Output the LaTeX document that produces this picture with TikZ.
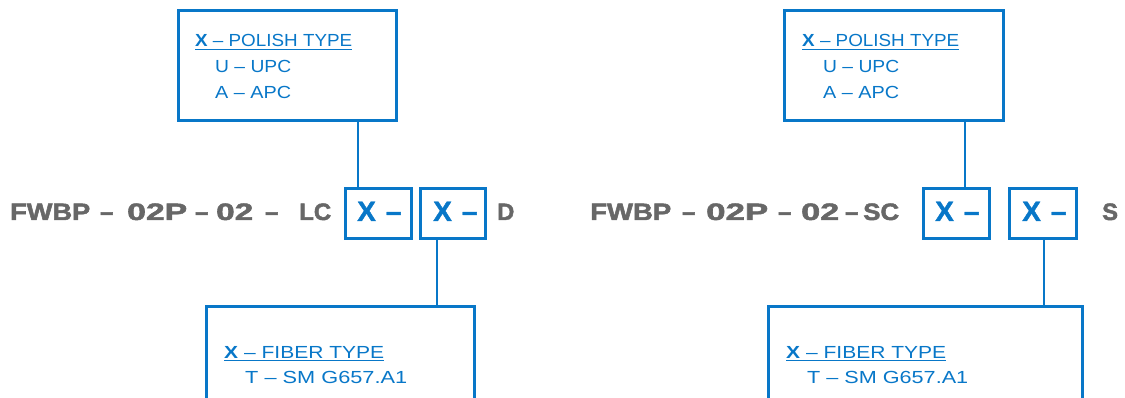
\documentclass[tikz,border=0pt]{standalone}
\usepackage{fontspec}
\setmainfont{Liberation Sans}
\newfontfamily\heavy[FakeBold=2]{Liberation Sans Bold}
\newfontfamily\heavyx[FakeBold=1.5]{Liberation Sans Bold}
\usepackage{graphicx}
\definecolor{fb}{HTML}{0877C8}
\definecolor{fg}{HTML}{676767}
\newcommand\fitw[2]{\resizebox{#1pt}{\height}{#2}}
\begin{document}
\begin{tikzpicture}[x=1pt,y=-1pt,
  frame/.style={draw=fb, line width=2.8pt, inner sep=0pt, anchor=north west},
  graytxt/.style={text=fg, font=\fontsize{23.7}{24}\heavy, inner sep=0pt, anchor=base west},
  bxtxt/.style={text=fb, font=\fontsize{28}{28}\heavyx, inner sep=0pt, anchor=base west},
  lbl/.style={text=fb, font=\fontsize{17.5}{18}\selectfont, inner sep=0pt, anchor=base west},
  wire/.style={draw=fb, line width=2.8pt},
  uline/.style={draw=fb, line width=1.7pt}]
\useasboundingbox (0,0) rectangle (1125,398);
\clip (0,0) rectangle (1125,398);

% ---------- left ----------
\node[frame, minimum width=218pt, minimum height=110pt] (tL) at (177,9) {};
\node[frame, minimum width=66pt, minimum height=50pt] (b1L) at (344,187) {};
\node[frame, minimum width=65pt, minimum height=50pt] (b2L) at (419,187) {};
\node[frame, minimum width=268pt, minimum height=130pt] (bL) at (205,305) {};

\coordinate (k1) at (358,0);
\coordinate (k2) at (437,0);
\draw[wire] (k1 |- tL.south) -- (k1 |- b1L.north);
\draw[wire] (k2 |- b2L.south) -- (k2 |- bL.north);

\node[graytxt] (gL1) at (10,220) {\fitw{80}{FWBP}};
\node[graytxt] (gL2) at (100,220) {–};
\node[graytxt] (gL3) at (127,220) {\fitw{60}{02P}};
\node[graytxt] (gL4) at (195,220) {–};
\node[graytxt] (gL5) at (216,220) {\fitw{37}{02}};
\node[graytxt] (gL6) at (265,220) {–};
\node[graytxt] (gL7) at (299,220) {\fitw{32}{LC}};
\node[graytxt] (gL8) at (497,220) {D};

\node[bxtxt] (xL1) at (357,221) {X\hspace{10pt}–};
\node[bxtxt] (xL2) at (433,221) {X\hspace{10pt}–};

\node[lbl] (pL1) at (195,47) {\fitw{157}{\textbf{X} – POLISH TYPE}};
\draw[uline] ([yshift=-2.6pt]pL1.base west) -- ([yshift=-2.6pt]pL1.base east);
\node[lbl] (pL2) at (215,73) {\fitw{76}{U – UPC}};
\node[lbl] (pL3) at (215,99) {\fitw{76}{A – APC}};

\node[lbl] (fL1) at (224,358) {\fitw{160}{\textbf{X} – FIBER TYPE}};
\draw[uline] ([yshift=-2.6pt]fL1.base west) -- ([yshift=-2.6pt]fL1.base east);
\node[lbl] (fL2) at (245,383) {\fitw{162}{T – SM G657.A1}};

% ---------- right ----------
\node[frame, minimum width=219pt, minimum height=110pt] (tR) at (783,9) {};
\node[frame, minimum width=66pt, minimum height=50pt] (b1R) at (922,187) {};
\node[frame, minimum width=67pt, minimum height=50pt] (b2R) at (1008,187) {};
\node[frame, minimum width=314pt, minimum height=130pt] (bR) at (767,305) {};

\coordinate (k3) at (965,0);
\coordinate (k4) at (1044,0);
\draw[wire] (k3 |- tR.south) -- (k3 |- b1R.north);
\draw[wire] (k4 |- b2R.south) -- (k4 |- bR.north);

\node[graytxt] (gR1) at (590,220) {\fitw{81}{FWBP}};
\node[graytxt] (gR2) at (682,220) {–};
\node[graytxt] (gR3) at (706,220) {\fitw{62}{02P}};
\node[graytxt] (gR4) at (778,220) {–};
\node[graytxt] (gR5) at (801,220) {\fitw{38}{02}};
\node[graytxt] (gR6) at (845,220) {–};
\node[graytxt] (gR7) at (863,220) {\fitw{36}{SC}};
\node[graytxt] (gR8) at (1102,220) {S};

\node[bxtxt] (xR1) at (935,221) {X\hspace{10pt}–};
\node[bxtxt] (xR2) at (1022,221) {X\hspace{10pt}–};

\node[lbl] (pR1) at (802,47) {\fitw{157}{\textbf{X} – POLISH TYPE}};
\draw[uline] ([yshift=-2.6pt]pR1.base west) -- ([yshift=-2.6pt]pR1.base east);
\node[lbl] (pR2) at (823,73) {\fitw{76}{U – UPC}};
\node[lbl] (pR3) at (823,99) {\fitw{76}{A – APC}};

\node[lbl] (fR1) at (786,358) {\fitw{160}{\textbf{X} – FIBER TYPE}};
\draw[uline] ([yshift=-2.6pt]fR1.base west) -- ([yshift=-2.6pt]fR1.base east);
\node[lbl] (fR2) at (807,383) {\fitw{161}{T – SM G657.A1}};
\end{tikzpicture}
\end{document}
